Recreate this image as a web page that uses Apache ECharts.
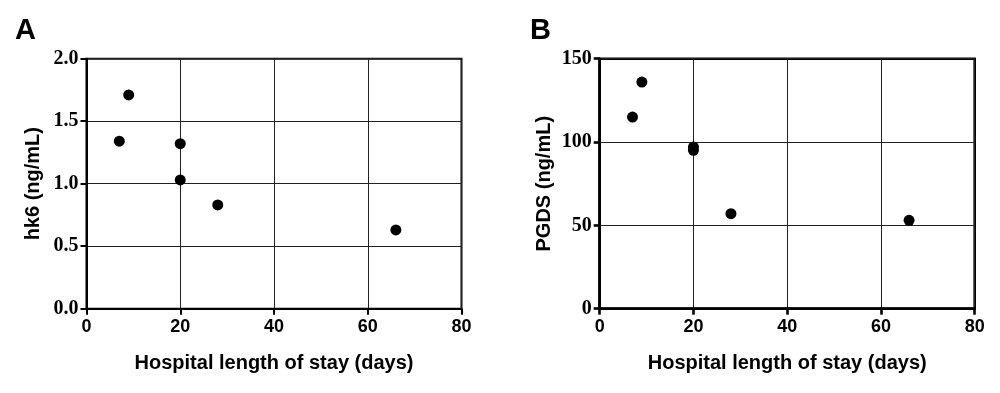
<!DOCTYPE html>
<html>
<head>
<meta charset="utf-8">
<script src="https://cdn.jsdelivr.net/npm/echarts@6/dist/echarts.min.js"></script>
<style>
html,body{margin:0;padding:0;background:#fff;}
#c{width:1000px;height:393px;}
</style>
</head>
<body>
<div id="c"></div>
<script>
// Data
const stayDays = [7, 9, 20, 20, 28, 66];
const hk6Values = [1.34, 1.71, 1.32, 1.03, 0.83, 0.63];
const pgdsStayDays = [7, 9, 20, 20, 28, 66];
const pgdsValues = [115, 136, 97, 95, 57, 53];
const xTitle = 'Hospital length of stay (days)';
const yTitleA = 'hk6 (ng/mL)';
const yTitleB = 'PGDS (ng/mL)';
const panelLabels = ['A', 'B'];

const sans = 'Liberation Sans, Arial, sans-serif';
const serif = 'Liberation Serif, Times New Roman, serif';

const chart = echarts.init(document.getElementById('c'), null, {renderer: 'canvas'});

function xAxisCfg(gridIndex, lineW) {
  return {
    type: 'value', gridIndex: gridIndex, min: 0, max: 80, interval: 20,
    name: xTitle, nameLocation: 'middle', nameGap: 45,
    nameTextStyle: {fontFamily: sans, fontWeight: 'bold', fontSize: 20, color: '#000'},
    axisLine: {show: true, lineStyle: {color: '#000', width: lineW}},
    axisTick: {show: true, inside: false, length: 6, lineStyle: {color: '#000', width: lineW}},
    axisLabel: {fontFamily: sans, fontWeight: 'bold', fontSize: 18, color: '#000', margin: 9},
    splitLine: {show: true, lineStyle: {color: '#222', width: 1}}
  };
}
function yAxisCfg(gridIndex, max, interval, name, gap, lineW, fmt) {
  return {
    type: 'value', gridIndex: gridIndex, min: 0, max: max, interval: interval,
    name: name, nameLocation: 'middle', nameGap: gap,
    nameTextStyle: {fontFamily: sans, fontWeight: 'bold', fontSize: 20, color: '#000'},
    axisLine: {show: true, lineStyle: {color: '#000', width: lineW}},
    axisTick: {show: true, inside: false, length: 6, lineStyle: {color: '#000', width: lineW}},
    axisLabel: {fontFamily: serif, fontWeight: 'bold', fontSize: 20, color: '#000', margin: 8, formatter: fmt},
    splitLine: {show: true, lineStyle: {color: '#222', width: 1}}
  };
}

const option = {
  animation: false,
  grid: [
    {left: 86.5, top: 58.7, width: 375, height: 250, show: true, borderColor: '#000', borderWidth: 2, backgroundColor: 'transparent'},
    {left: 599.7, top: 58.7, width: 375, height: 250, show: true, borderColor: '#000', borderWidth: 2.6, backgroundColor: 'transparent'}
  ],
  xAxis: [xAxisCfg(0, 2), xAxisCfg(1, 2.6)],
  yAxis: [
    yAxisCfg(0, 2, 0.5, yTitleA, 43, 2, v => v.toFixed(1)),
    yAxisCfg(1, 150, 50, yTitleB, 45, 2.6, v => String(v))
  ],
  graphic: [
    {type: 'text', left: 15, top: 16, style: {text: panelLabels[0], font: 'bold 29px ' + sans, fill: '#000'}},
    {type: 'text', left: 530, top: 16, style: {text: panelLabels[1], font: 'bold 29px ' + sans, fill: '#000'}}
  ],
  series: [
    {type: 'scatter', xAxisIndex: 0, yAxisIndex: 0, symbolSize: 11, itemStyle: {color: '#000', opacity: 1},
     data: stayDays.map((d, i) => [d, hk6Values[i]])},
    {type: 'scatter', xAxisIndex: 1, yAxisIndex: 1, symbolSize: 11, itemStyle: {color: '#000', opacity: 1},
     data: pgdsStayDays.map((d, i) => [d, pgdsValues[i]])}
  ]
};
chart.setOption(option);
</script>
</body>
</html>
